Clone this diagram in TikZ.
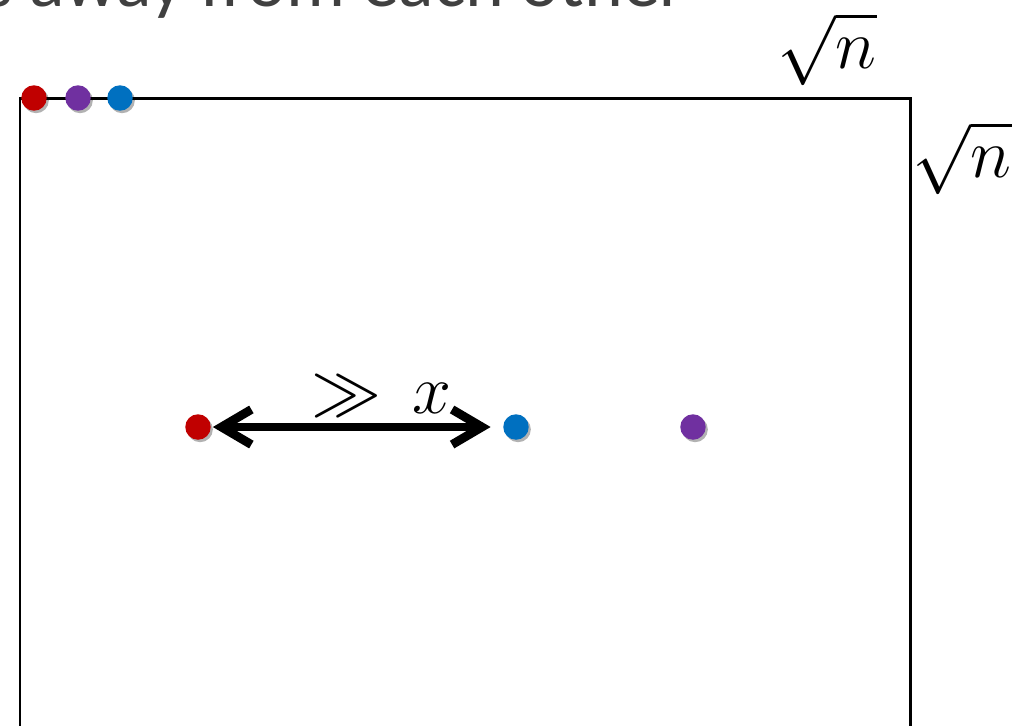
\documentclass[tikz,border=0pt]{standalone}
\usepackage{fontspec}
\setmainfont{Carlito}
\usepackage{xcolor}
\usepackage{tikz}
\usetikzlibrary{arrows.meta,shadows}
\usepackage{amsmath,amssymb}
\definecolor{dotred}{HTML}{C00000}
\definecolor{dotpurple}{HTML}{7030A0}
\definecolor{dotblue}{HTML}{0070C0}
\definecolor{caption}{HTML}{404040}

\begin{document}
\begin{tikzpicture}[x=0.02cm,y=-0.02cm,>=Latex,
 ball/.style={circle,inner sep=0pt,minimum size=14.5pt,
   drop shadow={shadow xshift=1.2pt,shadow yshift=-1.4pt,opacity=0.3,fill=black}},
 mathlabel/.style={inner sep=0pt,font=\Huge,scale=1.6}]
 \useasboundingbox (0,0) rectangle (1027,725);
 \node[anchor=base east,inner sep=0pt,text=caption,font=\fontsize{42}{50}\selectfont] (head) at (686,6) {s away from each other};
 % the square
 \draw[line width=1.7pt] (20,760) -- (20,98) -- (910,98) -- (910,760);
 \node[mathlabel] (top) at (827,49) {$\sqrt{n}$};
 \node[mathlabel] (side) at (962,158) {$\sqrt{n}$};
 % points in the corner
 \node[ball,fill=dotred] (rtop) at (34,98) {};
 \node[ball,fill=dotpurple] (ptop) at (78,98) {};
 \node[ball,fill=dotblue] (btop) at (120,98) {};
 % spread out points
 \node[ball,fill=dotred] (rmid) at (198,427) {};
 \node[ball,fill=dotblue] (bmid) at (516,427) {};
 \node[ball,fill=dotpurple] (pmid) at (693,427) {};
 \draw[line width=5pt,line cap=round,{Straight Barb[length=17pt,width=20pt]}-{Straight Barb[length=17pt,width=20pt]},shorten <=1pt,shorten >=7pt] (rmid) -- (bmid);
 \node[mathlabel,anchor=base] (gap) at (381,413) {$\gg\,x$};
\end{tikzpicture}
\end{document}
